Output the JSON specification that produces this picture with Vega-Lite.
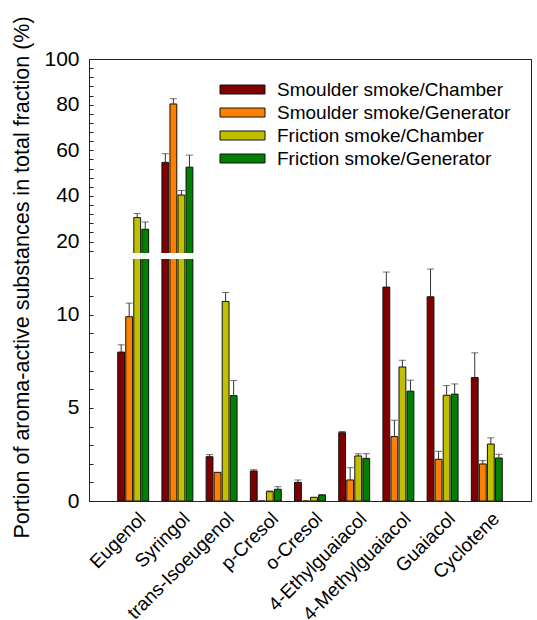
{
  "$schema": "https://vega.github.io/schema/vega-lite/v6.json",
  "autosize": {"type": "none"},
  "padding": {"left": 89, "top": 59, "right": 6, "bottom": 119},
  "width": 442,
  "height": 442,
  "config": {
    "font": "Liberation Sans",
    "view": {"stroke": "#222", "strokeWidth": 1},
    "axis": {"grid": false, "domainColor": "#222", "tickColor": "#222", "labelColor": "#000", "titleColor": "#000", "titleFontWeight": "normal"}
  },
  "data": {
    "values": [
      {"compound": "Eugenol", "series": "Smoulder smoke/Chamber", "value": 8.0, "top": 8.39},
      {"compound": "Eugenol", "series": "Smoulder smoke/Generator", "value": 9.9, "top": 10.63},
      {"compound": "Eugenol", "series": "Friction smoke/Chamber", "value": 30.5, "top": 32.3},
      {"compound": "Eugenol", "series": "Friction smoke/Generator", "value": 25.4, "top": 28.6},
      {"compound": "Syringol", "series": "Smoulder smoke/Chamber", "value": 54.7, "top": 58.5},
      {"compound": "Syringol", "series": "Smoulder smoke/Generator", "value": 80.3, "top": 82.6},
      {"compound": "Syringol", "series": "Friction smoke/Chamber", "value": 40.4, "top": 42.4},
      {"compound": "Syringol", "series": "Friction smoke/Generator", "value": 52.6, "top": 57.9},
      {"compound": "trans-Isoeugenol", "series": "Smoulder smoke/Chamber", "value": 2.38, "top": 2.49},
      {"compound": "trans-Isoeugenol", "series": "Smoulder smoke/Generator", "value": 1.54, "top": null},
      {"compound": "trans-Isoeugenol", "series": "Friction smoke/Chamber", "value": 10.72, "top": 11.2},
      {"compound": "trans-Isoeugenol", "series": "Friction smoke/Generator", "value": 5.66, "top": 6.47},
      {"compound": "p-Cresol", "series": "Smoulder smoke/Chamber", "value": 1.61, "top": 1.68},
      {"compound": "p-Cresol", "series": "Smoulder smoke/Generator", "value": 0, "top": null},
      {"compound": "p-Cresol", "series": "Friction smoke/Chamber", "value": 0.5, "top": 0.54},
      {"compound": "p-Cresol", "series": "Friction smoke/Generator", "value": 0.63, "top": 0.77},
      {"compound": "o-Cresol", "series": "Smoulder smoke/Chamber", "value": 1.0, "top": 1.13},
      {"compound": "o-Cresol", "series": "Smoulder smoke/Generator", "value": 0, "top": null},
      {"compound": "o-Cresol", "series": "Friction smoke/Chamber", "value": 0.2, "top": null},
      {"compound": "o-Cresol", "series": "Friction smoke/Generator", "value": 0.32, "top": 0.35},
      {"compound": "4-Ethylguaiacol", "series": "Smoulder smoke/Chamber", "value": 3.67, "top": 3.73},
      {"compound": "4-Ethylguaiacol", "series": "Smoulder smoke/Generator", "value": 1.13, "top": 1.79},
      {"compound": "4-Ethylguaiacol", "series": "Friction smoke/Chamber", "value": 2.42, "top": 2.54},
      {"compound": "4-Ethylguaiacol", "series": "Friction smoke/Generator", "value": 2.29, "top": 2.54},
      {"compound": "4-Methylguaiacol", "series": "Smoulder smoke/Chamber", "value": 11.49, "top": 12.3},
      {"compound": "4-Methylguaiacol", "series": "Smoulder smoke/Generator", "value": 3.46, "top": 4.34},
      {"compound": "4-Methylguaiacol", "series": "Friction smoke/Chamber", "value": 7.2, "top": 7.56},
      {"compound": "4-Methylguaiacol", "series": "Friction smoke/Generator", "value": 5.9, "top": 6.49},
      {"compound": "Guaiacol", "series": "Smoulder smoke/Chamber", "value": 10.97, "top": 12.46},
      {"compound": "Guaiacol", "series": "Smoulder smoke/Generator", "value": 2.24, "top": 2.67},
      {"compound": "Guaiacol", "series": "Friction smoke/Chamber", "value": 5.68, "top": 6.2},
      {"compound": "Guaiacol", "series": "Friction smoke/Generator", "value": 5.74, "top": 6.29},
      {"compound": "Cyclotene", "series": "Smoulder smoke/Chamber", "value": 6.63, "top": 7.96},
      {"compound": "Cyclotene", "series": "Smoulder smoke/Generator", "value": 1.99, "top": 2.17},
      {"compound": "Cyclotene", "series": "Friction smoke/Chamber", "value": 3.06, "top": 3.39},
      {"compound": "Cyclotene", "series": "Friction smoke/Generator", "value": 2.31, "top": 2.51}
    ]
  },
  "layer": [
    {
      "mark": {"type": "bar", "stroke": "#111", "strokeWidth": 1},
      "encoding": {
        "x": {"field": "compound", "type": "nominal", "sort": null,
          "scale": {"paddingInner": 0.3, "paddingOuter": 0.65},
          "axis": {"title": null, "labelAngle": -45, "labelFontSize": 19, "ticks": false, "labelPadding": 8, "labelOffset": 3, "labelAlign": "right", "labelBaseline": "top", "zindex": 1}},
        "xOffset": {"field": "series", "type": "nominal", "sort": ["Smoulder smoke/Chamber", "Smoulder smoke/Generator", "Friction smoke/Chamber", "Friction smoke/Generator"], "scale": {"paddingInner": 0.15}},
        "y": {"field": "value", "type": "quantitative",
          "scale": {"domain": [0, 13, 15, 100], "range": [442, 200, 194, 0], "nice": false, "zero": false},
          "axis": {"orient": "left", "zindex": 1, "values": [0, 1, 2, 3, 4, 5, 6, 7, 8, 9, 10, 11, 12, 16, 20, 24, 28, 32, 36, 40, 44, 48, 52, 56, 60, 64, 68, 72, 76, 80, 84, 88, 92, 96, 100],
            "labelExpr": "(datum.value == 0 || datum.value == 5 || datum.value == 10 || (datum.value >= 20 && datum.value % 20 == 0)) ? datum.label : ''",
            "tickSize": -4, "labelPadding": 14, "labelFontSize": 21,
            "title": "Portion of aroma-active substances in total fraction (%)", "titleFontSize": 21.5, "titleX": -56, "titleY": 218}},
        "color": {"field": "series", "type": "nominal",
          "scale": {"domain": ["Smoulder smoke/Chamber", "Smoulder smoke/Generator", "Friction smoke/Chamber", "Friction smoke/Generator"], "range": ["#800000", "#FF8000", "#C0C000", "#008000"]},
          "legend": {"orient": "none", "legendX": 143, "legendY": 20, "title": null, "labelFontSize": 19, "labelColor": "#000", "labelLimit": 0, "symbolType": "M-2.25,-0.45H2.25V0.45H-2.25Z", "symbolSize": 400, "symbolStrokeColor": "#111", "symbolStrokeWidth": 1, "symbolOpacity": 1, "labelOffset": 24, "rowPadding": 2}}
      }
    },
    {
      "transform": [{"filter": "isValid(datum.top)"}],
      "mark": {"type": "rule", "color": "#333", "strokeWidth": 1},
      "encoding": {
        "x": {"field": "compound", "type": "nominal", "sort": null,
          "scale": {"paddingInner": 0.3, "paddingOuter": 0.65},
          "axis": {"title": null, "labelAngle": -45, "labelFontSize": 19, "ticks": false, "labelPadding": 8, "labelOffset": 3, "labelAlign": "right", "labelBaseline": "top", "zindex": 1}},
        "xOffset": {"field": "series", "type": "nominal", "sort": ["Smoulder smoke/Chamber", "Smoulder smoke/Generator", "Friction smoke/Chamber", "Friction smoke/Generator"], "scale": {"paddingInner": 0.15}},
        "y": {"field": "value", "type": "quantitative",
          "scale": {"domain": [0, 13, 15, 100], "range": [442, 200, 194, 0], "nice": false, "zero": false},
          "axis": {"orient": "right", "zindex": 1, "labels": false, "ticks": false, "title": null, "values": [0]}},
        "y2": {"field": "top"}
      }
    },
    {
      "transform": [{"filter": "isValid(datum.top)"}],
      "mark": {"type": "tick", "color": "#333", "thickness": 1, "size": 7},
      "encoding": {
        "x": {"field": "compound", "type": "nominal", "sort": null,
          "scale": {"paddingInner": 0.3, "paddingOuter": 0.65},
          "axis": {"title": null, "labelAngle": -45, "labelFontSize": 19, "ticks": false, "labelPadding": 8, "labelOffset": 3, "labelAlign": "right", "labelBaseline": "top", "zindex": 1}},
        "xOffset": {"field": "series", "type": "nominal", "sort": ["Smoulder smoke/Chamber", "Smoulder smoke/Generator", "Friction smoke/Chamber", "Friction smoke/Generator"], "scale": {"paddingInner": 0.15}},
        "y": {"field": "top", "type": "quantitative",
          "scale": {"domain": [0, 13, 15, 100], "range": [442, 200, 194, 0], "nice": false, "zero": false},
          "axis": null}
      }
    },
    {
      "data": {"values": [{"gap": "break"}]},
      "mark": {"type": "rect", "fill": "white"},
      "encoding": {
        "y": {"datum": 13, "type": "quantitative",
          "scale": {"domain": [0, 13, 15, 100], "range": [442, 200, 194, 0], "nice": false, "zero": false},
          "axis": null},
        "y2": {"datum": 15}
      }
    }
  ],
  "resolve": {"axis": {"y": "independent"}}
}
